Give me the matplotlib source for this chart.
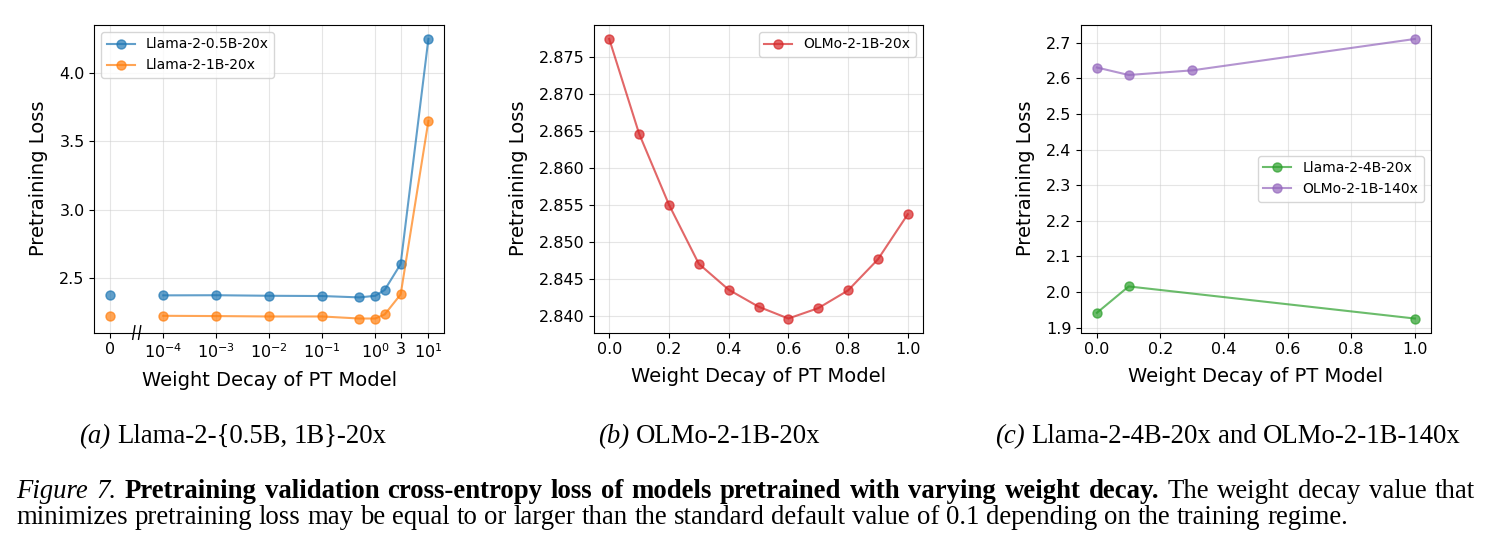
import numpy as np
import matplotlib
matplotlib.use('Agg')
import matplotlib.pyplot as plt
from matplotlib.ticker import FixedLocator, FixedFormatter, NullLocator, MultipleLocator
import matplotlib.transforms as mtransforms

# Panel (a): Llama-2-{0.5B, 1B}-20x, weight decay on a log axis (0 shown left of a break)
wd_a = [0, 1e-4, 1e-3, 1e-2, 1e-1, 0.5, 1.0, 1.5, 3.0, 10.0]
loss_llama_05b = [2.37, 2.37, 2.371, 2.367, 2.365, 2.355, 2.367, 2.41, 2.60, 4.252]
loss_llama_1b = [2.22, 2.22, 2.218, 2.215, 2.215, 2.20, 2.20, 2.23, 2.377, 3.65]
zero_pos = 1e-5  # where wd=0 sits on the log axis
tick_vals_a = [zero_pos, 1e-4, 1e-3, 1e-2, 1e-1, 1.0, 3.0, 10.0]
tick_labels_a = ['0', r'$10^{-4}$', r'$10^{-3}$', r'$10^{-2}$', r'$10^{-1}$', r'$10^{0}$', '3', r'$10^{1}$']

# Panel (b): OLMo-2-1B-20x
wd_b = [0.0, 0.1, 0.2, 0.3, 0.4, 0.5, 0.6, 0.7, 0.8, 0.9, 1.0]
loss_olmo_20x = [2.8774, 2.8646, 2.8550, 2.8470, 2.8435, 2.8412, 2.8396, 2.8410, 2.8434, 2.8476, 2.8537]

# Panel (c): Llama-2-4B-20x and OLMo-2-1B-140x
wd_llama_4b = [0.0, 0.1, 1.0]
loss_llama_4b = [1.942, 2.016, 1.926]
wd_olmo_140x = [0.0, 0.1, 0.3, 1.0]
loss_olmo_140x = [2.630, 2.609, 2.622, 2.710]

W, H = 1491, 554
fig = plt.figure(figsize=(W / 100, H / 100), dpi=100)

def px_axes(left, right, top, bottom):
    return fig.add_axes([left / W, 1 - bottom / H, (right - left) / W, (bottom - top) / H])

ax_a = px_axes(94.3, 444.3, 25, 332.5)
ax_b = px_axes(594.3, 922.7, 25, 332.5)
ax_c = px_axes(1081, 1430.7, 25, 332.5)

style = dict(marker='o', markersize=6.5, linewidth=1.5, alpha=0.7)

# Panel (a)
x_a = [zero_pos if v == 0 else v for v in wd_a]
ax_a.plot(x_a[1:], loss_llama_05b[1:], color='tab:blue', label='Llama-2-0.5B-20x', **style)
ax_a.plot(x_a[:1], loss_llama_05b[:1], color='tab:blue', linestyle='none', marker='o', markersize=6.5, alpha=0.7)
ax_a.plot(x_a[1:], loss_llama_1b[1:], color='tab:orange', label='Llama-2-1B-20x', **style)
ax_a.plot(x_a[:1], loss_llama_1b[:1], color='tab:orange', linestyle='none', marker='o', markersize=6.5, alpha=0.7)
ax_a.set_xscale('log')
ax_a.xaxis.set_major_locator(FixedLocator(tick_vals_a))
ax_a.xaxis.set_major_formatter(FixedFormatter(tick_labels_a))
ax_a.xaxis.set_minor_locator(NullLocator())
ax_a.yaxis.set_major_locator(MultipleLocator(0.5))
ax_a.legend(loc='upper left', fontsize=10)

# axis break marks "//" between 0 and 1e-4
brk = mtransforms.blended_transform_factory(ax_a.transData, ax_a.transAxes)
xb = 10 ** -4.5
for s in (10 ** -0.055, 10 ** 0.055):
    ax_a.plot([xb * s / 1.05, xb * s * 1.05], [-0.022, 0.022], transform=brk,
              color='black', linewidth=1.0, clip_on=False)

# Panel (b)
ax_b.plot(wd_b, loss_olmo_20x, color='tab:red', label='OLMo-2-1B-20x', **style)
ax_b.yaxis.set_major_locator(MultipleLocator(0.005))
ax_b.xaxis.set_major_locator(MultipleLocator(0.2))
ax_b.legend(loc='upper right', fontsize=10)

# Panel (c)
ax_c.plot(wd_llama_4b, loss_llama_4b, color='tab:green', label='Llama-2-4B-20x', **style)
ax_c.plot(wd_olmo_140x, loss_olmo_140x, color='tab:purple', label='OLMo-2-1B-140x', **style)
ax_c.yaxis.set_major_locator(MultipleLocator(0.1))
ax_c.xaxis.set_major_locator(MultipleLocator(0.2))
ax_c.legend(loc='center right', fontsize=10)

for ax in (ax_a, ax_b, ax_c):
    ax.grid(True, color='#cccccc', alpha=0.5, linewidth=0.8)
    ax.set_axisbelow(True)
    ax.tick_params(labelsize=11.5)
    ax.set_xlabel('Weight Decay of PT Model', fontsize=14, labelpad=7)
    ax.set_ylabel('Pretraining Loss', fontsize=14, labelpad=8)

# ---- captions (serif, mixed styles) ----
serif = 'Liberation Serif'
cap_size = 19.3
fig.canvas.draw()
renderer = fig.canvas.get_renderer()

def text_width(s, **kw):
    t = fig.text(0, 0, s, fontfamily=serif, fontsize=cap_size, **kw)
    w = t.get_window_extent(renderer).width
    t.remove()
    return w

space_w = text_width('a a') - text_width('aa')

def place_words(words, x0, y_base, x1=None):
    # words: list of (word, style, weight); justify to x1 if given
    widths = [text_width(w, style=s, weight=b) for w, s, b in words]
    gap = space_w
    if x1 is not None and len(words) > 1:
        gap = (x1 - x0 - sum(widths)) / (len(words) - 1)
    x = x0
    for (w, s, b), wd in zip(words, widths):
        fig.text(x / W, 1 - y_base / H, w, fontfamily=serif, fontsize=cap_size,
                 style=s, weight=b, ha='left', va='baseline')
        x += wd + gap

def centered_caption(label, title, xc, y_base):
    words = [(label, 'italic', 'normal')] + [(w, 'normal', 'normal') for w in title.split(' ')]
    total = sum(text_width(w, style=s, weight=b) for w, s, b in words) + space_w * (len(words) - 1)
    place_words(words, xc - total / 2, y_base)

centered_caption('(a)', 'Llama-2-{0.5B, 1B}-20x', 233, 443)
centered_caption('(b)', 'OLMo-2-1B-20x', 709, 443)
centered_caption('(c)', 'Llama-2-4B-20x and OLMo-2-1B-140x', 1228, 443)

line1 = [('Figure', 'italic', 'normal'), ('7.', 'italic', 'normal')]
line1 += [(w, 'normal', 'bold') for w in
          'Pretraining validation cross-entropy loss of models pretrained with varying weight decay.'.split(' ')]
line1 += [(w, 'normal', 'normal') for w in 'The weight decay value that'.split(' ')]
place_words(line1, 16, 498, 1475)
line2 = ('minimizes pretraining loss may be equal to or larger than the standard default value of 0.1 '
         'depending on the training regime.')
place_words([(w, 'normal', 'normal') for w in line2.split(' ')], 16, 524)

fig.savefig('out.png', dpi=100)
